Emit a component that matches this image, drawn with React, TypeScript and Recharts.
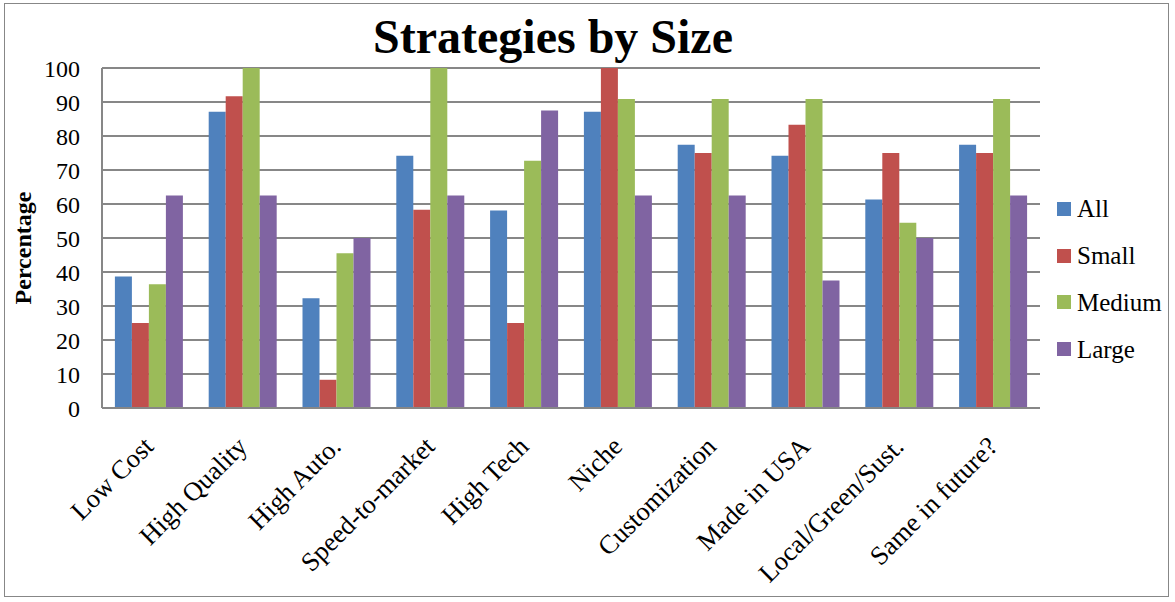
import { BarChart, Bar, XAxis, YAxis, CartesianGrid } from 'recharts';

const categories = [
    'Low Cost',
    'High Quality',
    'High Auto.',
    'Speed-to-market',
    'High Tech',
    'Niche',
    'Customization',
    'Made in USA',
    'Local/Green/Sust.',
    'Same in future?',
];

const allValues = [38.7, 87.1, 32.3, 74.2, 58.1, 87.1, 77.4, 74.2, 61.3, 77.4];
const smallValues = [25, 91.7, 8.3, 58.3, 25, 100, 75, 83.3, 75, 75];
const mediumValues = [36.4, 100, 45.5, 100, 72.7, 90.9, 90.9, 90.9, 54.5, 90.9];
const largeValues = [62.5, 62.5, 50, 62.5, 87.5, 62.5, 62.5, 37.5, 50, 62.5];

const yTicks = [0, 10, 20, 30, 40, 50, 60, 70, 80, 90, 100];

const series = [
    { key: 'all', name: 'All', color: '#4F81BD' },
    { key: 'small', name: 'Small', color: '#C0504D' },
    { key: 'medium', name: 'Medium', color: '#9BBB59' },
    { key: 'large', name: 'Large', color: '#8064A2' },
];

const data = categories.map((name, i) => ({
    name,
    all: allValues[i],
    small: smallValues[i],
    medium: mediumValues[i],
    large: largeValues[i],
}));

const FONT = "'Liberation Serif', 'Times New Roman', serif";

// rotated category labels, text ends just under the category centre
const CategoryTick = ({ x, y, payload }: any) => {
    const tx = x + 6;
    const ty = y + 38;
    return (
        <text
            x={tx}
            y={ty}
            textAnchor="end"
            fontFamily={FONT}
            fontSize={26.5}
            fill="#000"
            transform={`rotate(-45, ${tx}, ${ty})`}
        >
            {payload.value}
        </text>
    );
};

export default function App() {
    return (
        <div style={{ position: 'absolute', left: 0, top: 0, width: 1175, height: 602, background: '#fff', fontFamily: FONT }}>
            <div
                style={{
                    position: 'absolute',
                    left: 4,
                    top: 3,
                    width: 1165,
                    height: 594,
                    border: '1.5px solid #878787',
                    boxSizing: 'border-box',
                }}
            />

            <div
                style={{
                    position: 'absolute',
                    left: 303,
                    width: 500,
                    top: 13,
                    textAlign: 'center',
                    fontSize: 48,
                    lineHeight: '48px',
                    fontWeight: 'bold',
                    color: '#000',
                }}
            >
                Strategies by Size
            </div>

            <div
                style={{
                    position: 'absolute',
                    left: 23,
                    top: 248,
                    transform: 'translate(-50%, -50%) rotate(-90deg)',
                    fontSize: 24,
                    fontWeight: 'bold',
                    whiteSpace: 'nowrap',
                    color: '#000',
                }}
            >
                Percentage
            </div>

            <BarChart
                width={1175}
                height={602}
                data={data}
                margin={{ top: 68, right: 135, left: 0, bottom: 164 }}
                barCategoryGap="13.75%"
                barGap={0}
                style={{ position: 'absolute', left: 0, top: 0 }}
            >
                <CartesianGrid vertical={false} stroke="#878787" strokeWidth={2} />
                <XAxis
                    dataKey="name"
                    height={30}
                    interval={0}
                    tickLine={false}
                    tickSize={0}
                    tick={<CategoryTick />}
                    axisLine={{ stroke: '#878787', strokeWidth: 2 }}
                />
                <YAxis
                    width={102}
                    domain={[0, 100]}
                    ticks={yTicks}
                    interval={0}
                    tickLine={false}
                    tickSize={0}
                    tickMargin={22}
                    axisLine={{ stroke: '#878787', strokeWidth: 2 }}
                    tick={{ fontFamily: FONT, fontSize: 24, fill: '#000' }}
                />
                {series.map((s) => (
                    <Bar key={s.key} dataKey={s.key} name={s.name} fill={s.color} isAnimationActive={false} />
                ))}
            </BarChart>

            <div style={{ position: 'absolute', left: 1057, top: 185.6 }}>
                {series.map((s) => (
                    <div key={s.key} style={{ height: 46.7, display: 'flex', alignItems: 'center' }}>
                        <span style={{ width: 14, height: 14, background: s.color, display: 'inline-block', marginRight: 6 }} />
                        <span style={{ fontSize: 25, color: '#000', lineHeight: '25px' }}>{s.name}</span>
                    </div>
                ))}
            </div>
        </div>
    );
}
